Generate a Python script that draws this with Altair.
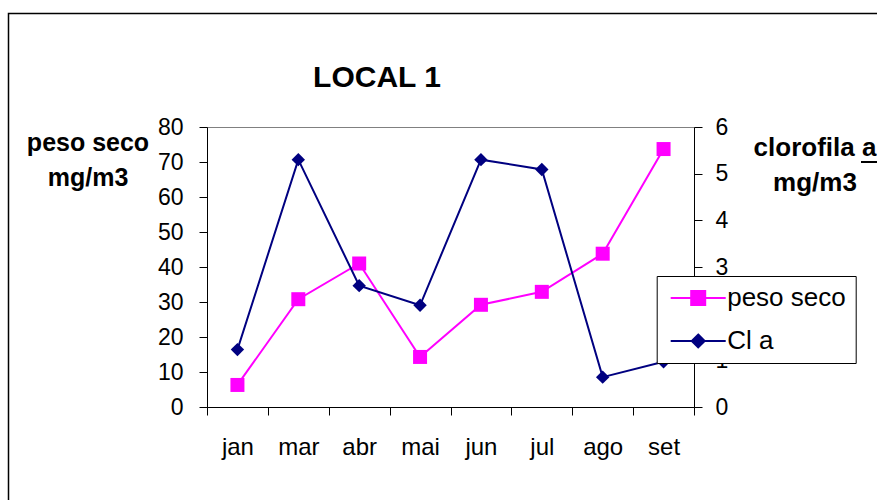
import altair as alt
import pandas as pd

# ---- data ----
months = ["jan", "mar", "abr", "mai", "jun", "jul", "ago", "set"]
peso_seco = [6.3, 30.8, 41.0, 14.3, 29.2, 32.9, 43.8, 73.7]
cl_a = [1.23, 5.30, 2.60, 2.18, 5.30, 5.09, 0.64, 0.97]
series_names = ["peso seco", "Cl a"]
series_colors = ["#FF00FF", "#000080"]
left_ticks = [0, 10, 20, 30, 40, 50, 60, 70, 80]
right_ticks = [0, 1, 2, 3, 4, 5, 6]
chart_title = ["LOCAL 1"]
left_title = ["peso seco", "mg/m3"]
right_title = ["clorofila a", "mg/m3"]

FONT = "Liberation Sans"
W, H = 487, 280
PAD = {"left": 207, "top": 127, "right": 877 - 207 - W, "bottom": 500 - 127 - H}

df_peso = pd.DataFrame({"month": months, "value": peso_seco})
df_cla = pd.DataFrame({"month": months, "value": cl_a})

x_enc = alt.X(
    "month:N",
    sort=months,
    scale=alt.Scale(type="band", domain=months, paddingInner=0, paddingOuter=0),
    axis=alt.Axis(title=None, labelAngle=0, tickBand="extent", tickSize=8,
                  labelPadding=20, labelFontSize=24),
)

y_left = alt.Y(
    "value:Q",
    scale=alt.Scale(domain=[0, 80], nice=False, zero=True),
    axis=alt.Axis(orient="left", values=left_ticks, title=left_title, titleAngle=0,
                  titleX=-119.5, titleY=23, titleAlign="center", titleBaseline="alphabetic",
                  titleFontSize=25, titleFontWeight="bold", titleLineHeight=35,
                  tickSize=8, labelPadding=16, labelFontSize=23),
)
y_right = alt.Y(
    "value:Q",
    scale=alt.Scale(domain=[0, 6], nice=False, zero=True),
    axis=alt.Axis(orient="right", values=right_ticks, title=right_title, titleAngle=0,
                  titleX=120.5, titleY=28, titleAlign="center", titleBaseline="alphabetic",
                  titleFontSize=26, titleFontWeight="bold", titleLineHeight=35,
                  tickSize=8, labelPadding=13, labelFontSize=23),
)

line_peso = alt.Chart(df_peso).mark_line(color=series_colors[0], strokeWidth=2).encode(x=x_enc, y=y_left)
pts_peso = alt.Chart(df_peso).mark_point(shape="square", filled=True, size=196, opacity=1,
                                         color=series_colors[0]).encode(x=x_enc, y=y_left)
line_cla = alt.Chart(df_cla).mark_line(color=series_colors[1], strokeWidth=2).encode(x=x_enc, y=y_right)
pts_cla = alt.Chart(df_cla).mark_point(shape="diamond", filled=True, size=180, opacity=1,
                                       color=series_colors[1]).encode(x=x_enc, y=y_right)

left = alt.layer(line_peso, pts_peso)
right = alt.layer(line_cla, pts_cla)

# legend-only layer (line + marker symbols)
path_peso = "M-3.93,0H3.93M-1,-1H1V1H-1Z"
path_cla = "M-3.93,0H3.93M0,-0.92L0.92,0L0,0.92L-0.92,0Z"
leg_kw = dict(title=None, orient="none", legendX=449.7, legendY=149,
              strokeColor="black", fillColor="white", padding=9,
              labelFont=FONT, labelFontSize=26, labelColor="black",
              symbolSize=196, symbolStrokeWidth=2, symbolOffset=19.5,
              labelOffset=16, rowPadding=17)
legend_df = pd.DataFrame({"series": series_names})
legend_layer = alt.Chart(legend_df).mark_point(filled=True, opacity=1, strokeWidth=2).encode(
    fill=alt.Fill("series:N", scale=alt.Scale(domain=series_names, range=series_colors),
                  legend=alt.Legend(**leg_kw)),
    stroke=alt.Stroke("series:N", scale=alt.Scale(domain=series_names, range=series_colors),
                      legend=alt.Legend(**leg_kw)),
    shape=alt.Shape("series:N", scale=alt.Scale(domain=series_names, range=[path_peso, path_cla]),
                    legend=alt.Legend(**leg_kw)),
).transform_filter("false")

title_layer = alt.Chart(pd.DataFrame({"t": chart_title})).mark_text(
    font=FONT, fontSize=30, fontWeight="bold", align="center", baseline="alphabetic", color="black"
).encode(text="t:N", x=alt.value(377 - 207), y=alt.value(87 - 127))

underline = alt.Chart(pd.DataFrame({"k": [0]})).mark_rule(color="black", strokeWidth=2).encode(
    x=alt.value(861 - 207), x2=alt.value(877 - 207), y=alt.value(162 - 127))

border = alt.Chart(pd.DataFrame({"k": [0]})).mark_rect(filled=False, stroke="black", strokeWidth=1.5).encode(
    x=alt.value(8.5 - 207), x2=alt.value(1000), y=alt.value(13.5 - 127), y2=alt.value(600))

chart = alt.layer(border, left, right, legend_layer, title_layer, underline).resolve_scale(
    y="independent"
).properties(
    width=W, height=H, padding=PAD, autosize=alt.AutoSizeParams(type="none"), background="white"
).configure_axis(
    labelFont=FONT, titleFont=FONT, labelColor="black", titleColor="black",
    domainColor="black", tickColor="black", grid=False,
).configure_view(stroke="#808080", strokeWidth=1)

chart.save("out.html", embed_options={"renderer": "svg", "actions": False})
